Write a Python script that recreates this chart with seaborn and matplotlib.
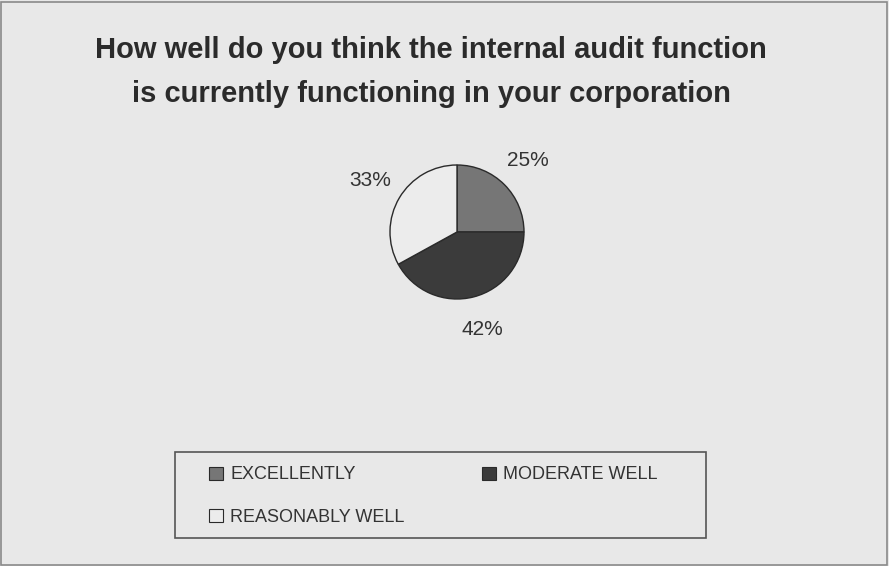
import matplotlib
matplotlib.use("Agg")
import matplotlib.pyplot as plt
from matplotlib.patches import Patch, Rectangle
import seaborn as sns

categories = ["EXCELLENTLY", "MODERATE WELL", "REASONABLY WELL"]
values = [25, 42, 33]
colors = ["#767676", "#3b3b3b", "#ececec"]
title = "How well do you think the internal audit function\nis currently functioning in your corporation"

sns.set_theme(style="white")
plt.rcParams["font.family"] = ["Liberation Sans", "DejaVu Sans"]

W, H = 889, 566
bg = "#e8e8e8"
fig = plt.figure(figsize=(W / 100, H / 100), dpi=100, facecolor=bg)

# outer border
fig.patches.append(Rectangle((1 / W, 1 / H), (W - 3) / W, (H - 3) / H, transform=fig.transFigure,
                             fill=False, edgecolor="#8a8a8a", linewidth=1.2))

fig.text(431 / W, 1 - 72 / H, title, ha="center", va="center", fontsize=21, fontweight="bold",
         color="#2b2b2b", linespacing=1.72)

cx, cy, r = 457, 232, 67
ax = fig.add_axes([(cx - r) / W, (H - cy - r) / H, 2 * r / W, 2 * r / H])
ax.set_facecolor("none")
wedges, texts, autotexts = ax.pie(values, colors=colors, startangle=90, counterclock=False,
                                  autopct="%d%%", pctdistance=1.5, radius=1,
                                  wedgeprops=dict(edgecolor="#2a2a2a", linewidth=1.0),
                                  textprops=dict(fontsize=15, color="#333333"))
ax.set_xlim(-1, 1)
ax.set_ylim(-1, 1)
ax.set_aspect("equal")
ax.axis("off")

# legend frame
lx0, ly0, lx1, ly1 = 175, 452, 706, 538
fig.patches.append(Rectangle((lx0 / W, 1 - ly1 / H), (lx1 - lx0) / W, (ly1 - ly0) / H,
                             transform=fig.transFigure, fill=False, edgecolor="#555555", linewidth=1.2))

handles = [Patch(facecolor=c, edgecolor="#2a2a2a", linewidth=0.8) for c in colors]
order = [0, 2, 1]
leg = fig.legend([handles[i] for i in order], [categories[i] for i in order],
                 loc="upper left", bbox_to_anchor=(204 / W, 1 - 461 / H), ncol=2,
                 frameon=False, fontsize=13, handlelength=0.75, handleheight=0.75,
                 handletextpad=0.4, columnspacing=4.3, labelspacing=1.4, borderpad=0.3,
                 borderaxespad=0)
for t in leg.get_texts():
    t.set_color("#333333")

fig.savefig("out.png", dpi=100, facecolor=bg)
